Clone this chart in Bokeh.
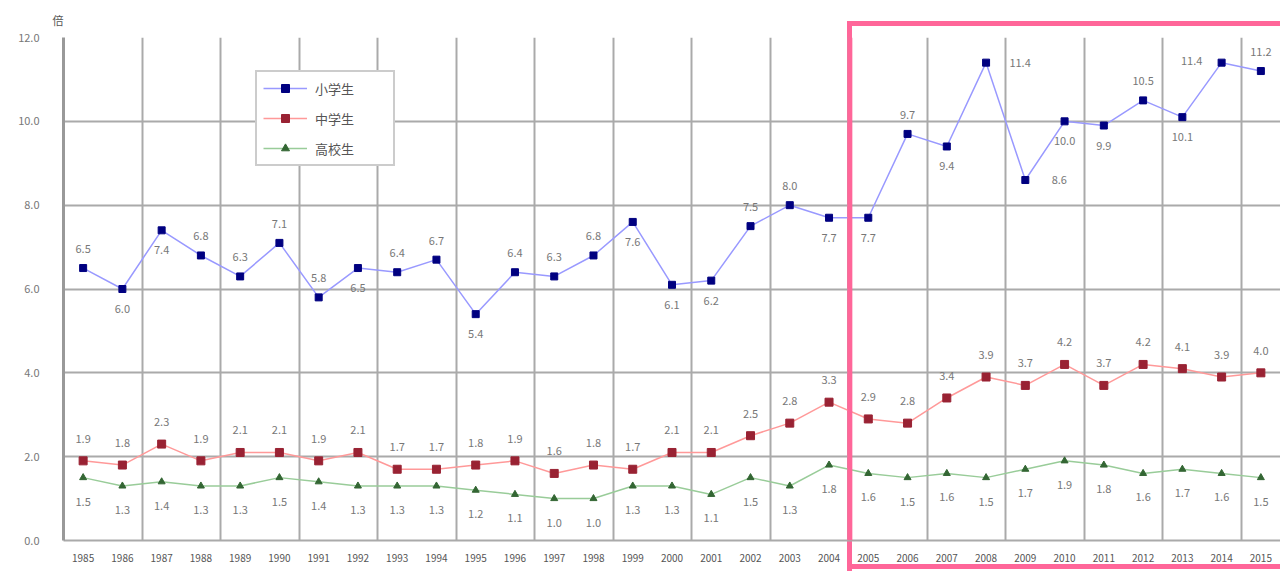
from bokeh.plotting import figure
from bokeh.models import ColumnDataSource, FixedTicker, Span, NumeralTickFormatter
from bokeh.core.properties import value
from bokeh.embed import file_html
from bokeh.resources import INLINE

# ---------------- data ----------------
years = list(range(1985, 2016))
series_names = ["小学生", "中学生", "高校生"]
elementary = [6.5, 6.0, 7.4, 6.8, 6.3, 7.1, 5.8, 6.5, 6.4, 6.7,
              5.4, 6.4, 6.3, 6.8, 7.6, 6.1, 6.2, 7.5, 8.0, 7.7,
              7.7, 9.7, 9.4, 11.4, 8.6, 10.0, 9.9, 10.5, 10.1, 11.4, 11.2]
junior = [1.9, 1.8, 2.3, 1.9, 2.1, 2.1, 1.9, 2.1, 1.7, 1.7,
          1.8, 1.9, 1.6, 1.8, 1.7, 2.1, 2.1, 2.5, 2.8, 3.3,
          2.9, 2.8, 3.4, 3.9, 3.7, 4.2, 3.7, 4.2, 4.1, 3.9, 4.0]
high = [1.5, 1.3, 1.4, 1.3, 1.3, 1.5, 1.4, 1.3, 1.3, 1.3,
        1.2, 1.1, 1.0, 1.0, 1.3, 1.3, 1.1, 1.5, 1.3, 1.8,
        1.6, 1.5, 1.6, 1.5, 1.7, 1.9, 1.8, 1.6, 1.7, 1.6, 1.5]
y_ticks = [0, 2, 4, 6, 8, 10, 12]
unit_label = "倍"
highlight_first = 2005

# ---------------- layout / style ----------------
W, H = 1280, 571
B_LEFT, B_TOP, B_BOTTOM = 63, 37, 31
X0, X1 = years[0] - 0.5, years[-1] + 0.5
PINK = "#ff6699"
# a = above, b = below, r = right, l = left
elem_place = "abbaaaabaabaaabbbaabbabrrbbabla"
OFF = {"a": (0, -19), "b": (0, 20), "r": (34, 0), "l": (-30, -2)}
FONT = "Noto Sans CJK JP"

# highlight frame geometry (pixels), derived from the x scale
hl_x_data = highlight_first - 0.47
hl_left = B_LEFT + (hl_x_data - X0) / (X1 - X0) * (W - B_LEFT)
bw = 5
css_box = {
    "background-image": ", ".join([f"linear-gradient({PINK},{PINK})"] * 3),
    "background-size": f"{W - hl_left + bw:.0f}px {bw}px, {bw}px {H - 21:.0f}px, {W - hl_left + bw:.0f}px {bw}px",
    "background-position": f"{hl_left - bw/2:.0f}px 21px, {hl_left - bw/2:.0f}px 21px, {hl_left - bw/2:.0f}px {H - 7}px",
    "background-repeat": "no-repeat",
}

p = figure(width=W, height=H, x_range=(X0, X1), y_range=(0, 12),
           output_backend="svg", toolbar_location=None,
           min_border_left=B_LEFT, min_border_right=0, min_border_top=B_TOP, min_border_bottom=B_BOTTOM,
           styles=css_box)
p.outline_line_color = None
p.background_fill_color = None
p.border_fill_color = None

# unit label top-left as the plot title
p.title.text = unit_label
p.title.align = "left"
p.title.offset = -11
p.title.text_font = FONT
p.title.text_font_size = "11px"
p.title.text_font_style = "normal"
p.title.text_color = "#555555"
p.title.standoff = 19

# axes
p.xaxis.ticker = FixedTicker(ticks=years)
p.xaxis.major_label_text_font = FONT
p.xaxis.major_label_text_font_size = "10px"
p.xaxis.major_label_text_color = "#555555"
p.xaxis.major_tick_line_color = None
p.xaxis.minor_tick_line_color = None
p.xaxis.axis_line_color = "#aaaaaa"
p.xaxis.axis_line_width = 2
p.xaxis.major_label_standoff = 7

p.yaxis.ticker = FixedTicker(ticks=y_ticks)
p.yaxis.formatter = NumeralTickFormatter(format="0.0")
p.yaxis.major_label_text_font = FONT
p.yaxis.major_label_text_font_size = "11px"
p.yaxis.major_label_text_color = "#777777"
p.yaxis.major_tick_line_color = None
p.yaxis.minor_tick_line_color = None
p.yaxis.axis_line_color = "#999999"
p.yaxis.axis_line_width = 3
p.yaxis.major_label_standoff = 18

# grids
p.xgrid.ticker = FixedTicker(ticks=[y + 0.5 for y in years[1:-1:2]])
p.xgrid.grid_line_color = "#aaaaaa"
p.xgrid.grid_line_width = 2
p.ygrid.ticker = FixedTicker(ticks=y_ticks)
p.ygrid.grid_line_color = "#aaaaaa"
p.ygrid.grid_line_width = 2

def fmt(v):
    return "%.1f" % v

LBL = dict(text_font=value(FONT), text_font_size="11px", text_color="#777777",
           text_align="center", text_baseline="middle")

# elementary
src_e = ColumnDataSource(dict(
    x=years, y=elementary, t=[fmt(v) for v in elementary],
    dx=[OFF[c][0] for c in elem_place], dy=[OFF[c][1] for c in elem_place]))
p.line("x", "y", source=src_e, line_color="#9999ff", line_width=1.5, legend_label=series_names[0])
p.scatter("x", "y", source=src_e, marker="square", size=7, fill_color="#000080",
          line_color="#000080", legend_label=series_names[0])
p.text("x", "y", text="t", source=src_e, x_offset="dx", y_offset="dy", **LBL)

# junior high
src_j = ColumnDataSource(dict(x=years, y=junior, t=[fmt(v) for v in junior]))
p.line("x", "y", source=src_j, line_color="#ff9999", line_width=1.5, legend_label=series_names[1])
p.scatter("x", "y", source=src_j, marker="square", size=8, fill_color="#992233",
          line_color="#992233", legend_label=series_names[1])
p.text("x", "y", text="t", source=src_j, y_offset=-22, **LBL)

# high school
src_h = ColumnDataSource(dict(x=years, y=high, t=[fmt(v) for v in high]))
p.line("x", "y", source=src_h, line_color="#99cc99", line_width=1.5, legend_label=series_names[2])
p.scatter("x", "y", source=src_h, marker="triangle", size=7, fill_color="#336633",
          line_color="#336633", legend_label=series_names[2])
p.text("x", "y", text="t", source=src_h, y_offset=24, **LBL)

# legend
lg = p.legend[0]
lg.location = (192, 374)
lg.border_line_color = "#999999"
lg.border_line_width = 2
lg.background_fill_color = "white"
lg.background_fill_alpha = 1
lg.label_text_font = FONT
lg.label_text_font_size = "13px"
lg.label_text_color = "#555555"
lg.glyph_width = 44
lg.glyph_height = 20
lg.spacing = 10
lg.padding = 6
lg.margin = 0
lg.label_standoff = 8
lg.label_width = 72

# left edge of the highlight frame drawn on top inside the plot area
p.add_layout(Span(location=hl_x_data, dimension="height", line_color=PINK,
                  line_width=bw, level="overlay"))

open("out.html", "w").write(file_html(p, INLINE))
